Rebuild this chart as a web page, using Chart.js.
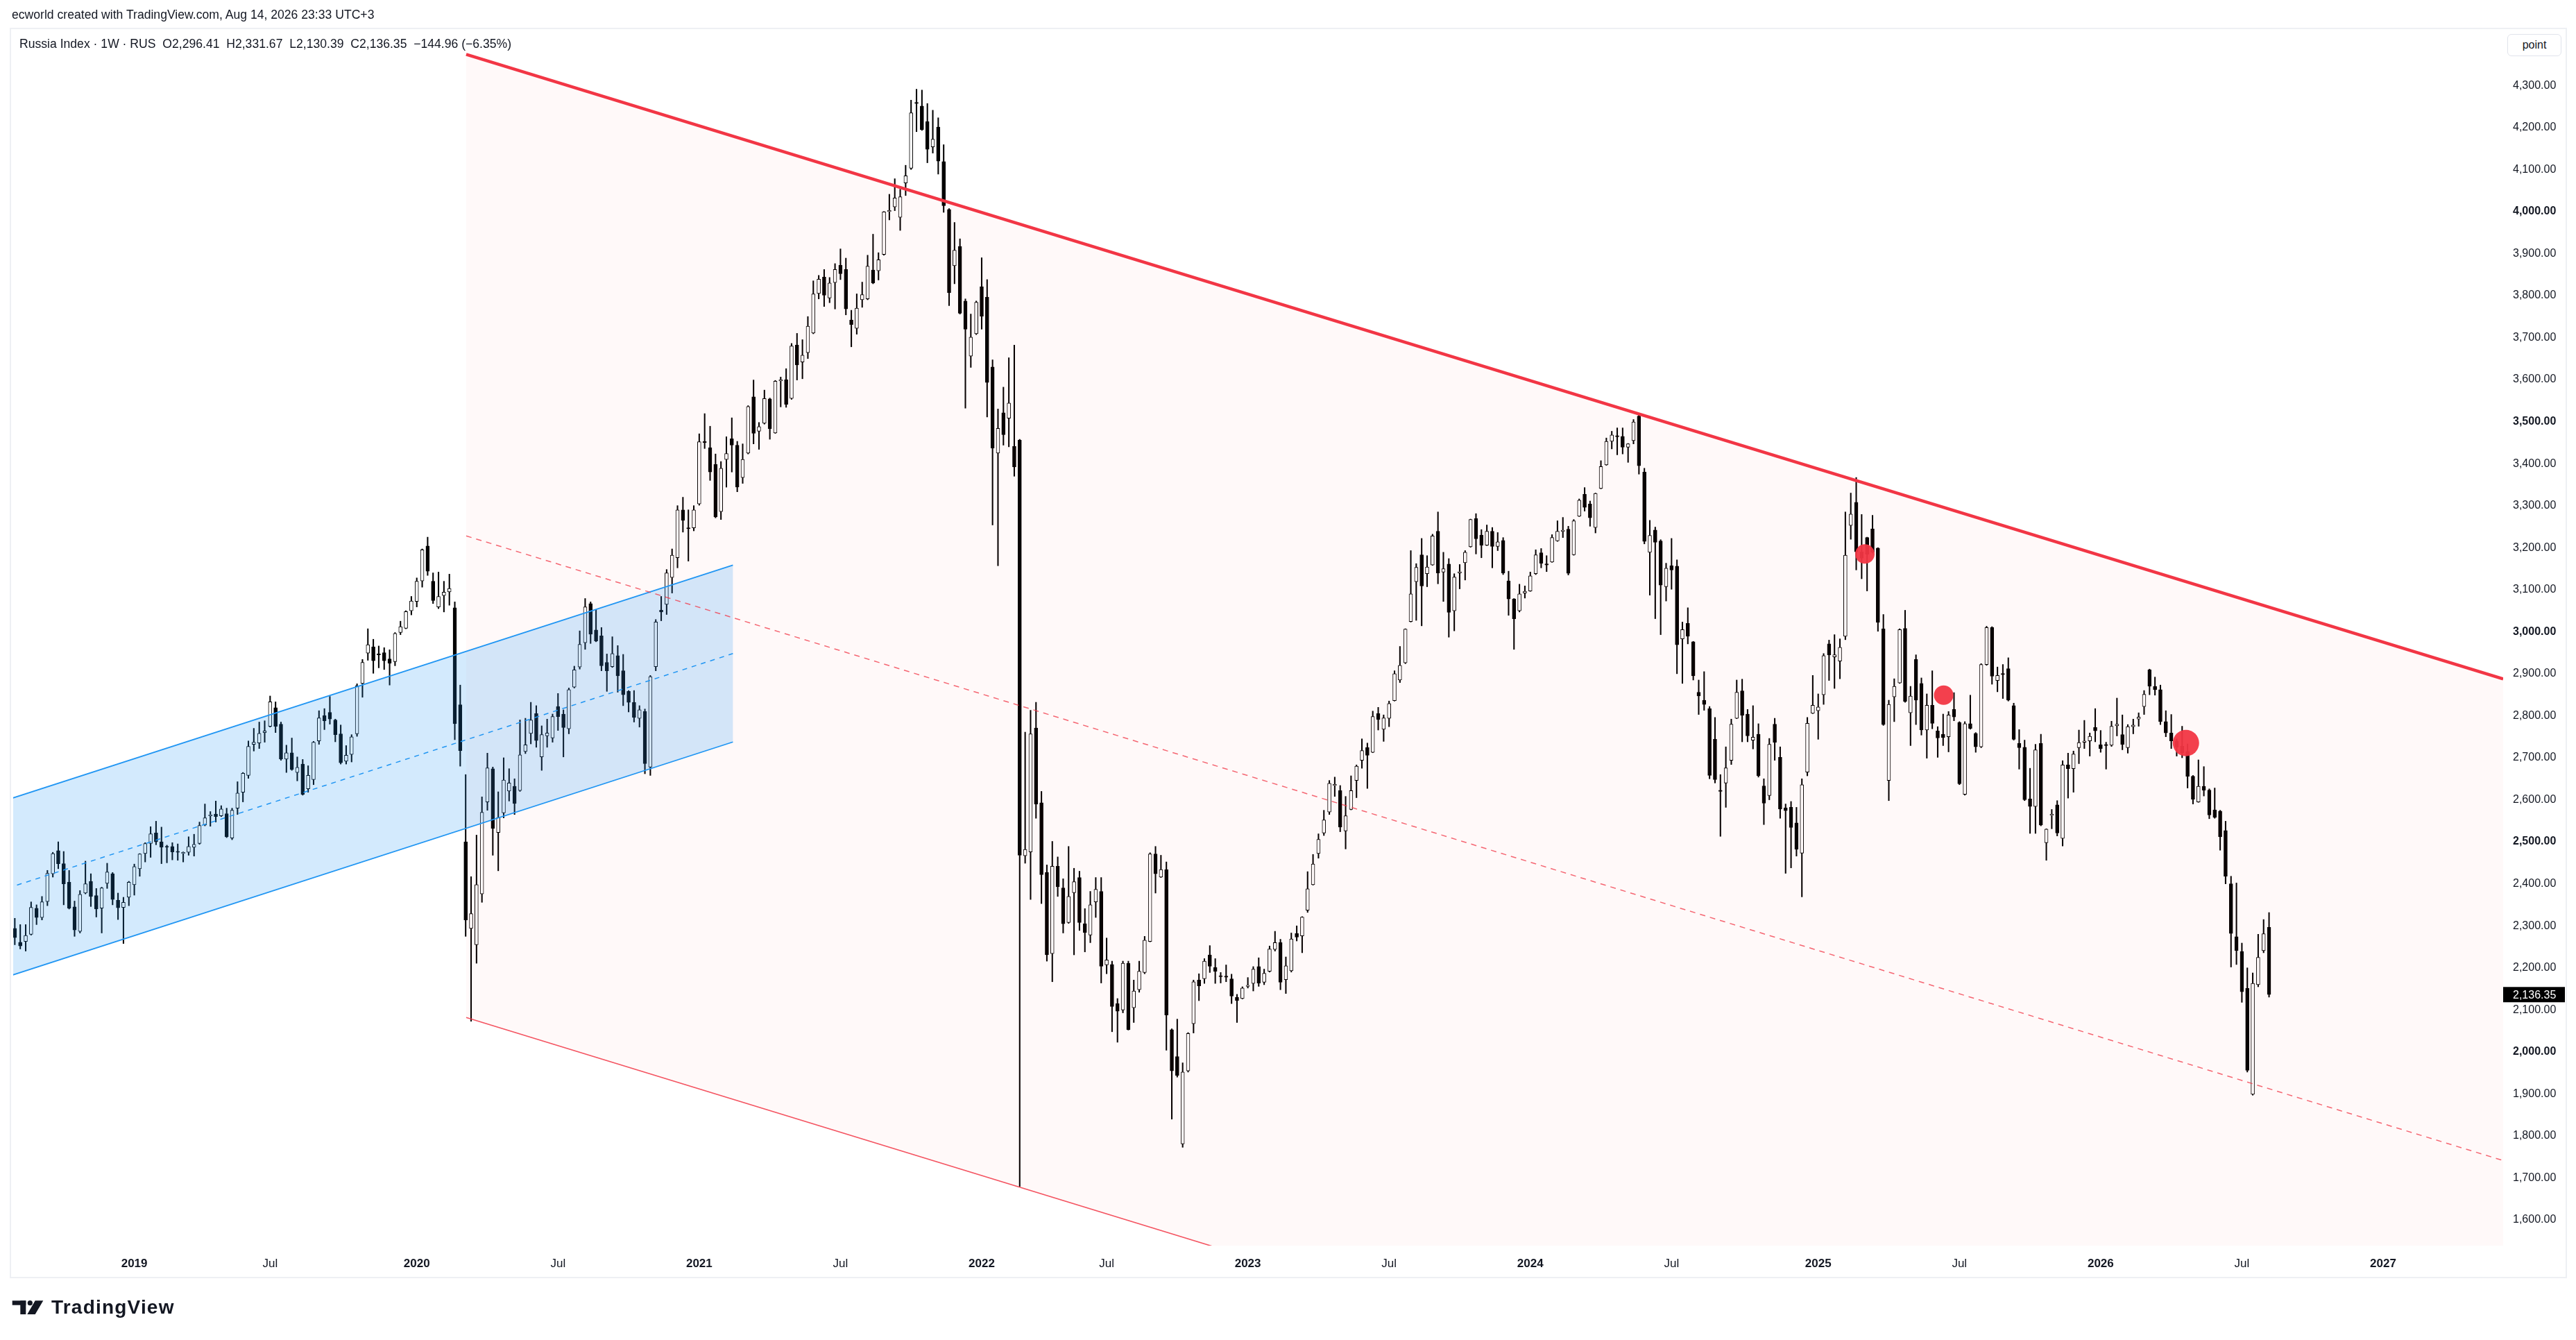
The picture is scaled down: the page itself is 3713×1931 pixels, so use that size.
<!DOCTYPE html>
<html>
<head>
<meta charset="utf-8">
<title>Russia Index 1W</title>
<script src="https://cdn.jsdelivr.net/npm/chart.js@4.4.1/dist/chart.umd.min.js"></script>
<style>
  html, body { margin: 0; padding: 0; background: #fff; }
  #wrap { position: relative; width: 3713px; height: 1931px; overflow: hidden;
          font-family: "Liberation Sans", Arial, sans-serif; color: #131722; }
  #chart { position: absolute; left: 0; top: 0; width: 3713px; height: 1931px; }
  .frame { position: absolute; left: 14px; top: 40px; width: 3682px; height: 1798px;
           border: 2px solid #eef0f4; pointer-events: none; }
  .hdr { position: absolute; left: 17px; top: 11px; font-size: 17.6px; line-height: 20px; white-space: pre; }
  .legend { position: absolute; left: 28px; top: 53px; font-size: 17.6px; line-height: 20px; white-space: pre; }
  .unit { position: absolute; left: 3614px; top: 49px; width: 76px; height: 30px; border: 1px solid #e0e3eb;
          border-radius: 6px; font-size: 16px; line-height: 30px; text-align: center; background: #fff; }
  .logo-icon { position: absolute; left: 0; top: 1860px; }
  .logo-text { position: absolute; left: 74px; top: 1870px; font-weight: bold; font-size: 28px; line-height: 28px;
               letter-spacing: 1.2px; color: #131722; }
</style>
</head>
<body>
<div id="wrap">
  <canvas id="chart" width="3713" height="1931"></canvas>
  <div class="frame"></div>
  <div class="hdr">ecworld created with TradingView.com, Aug 14, 2026 23:33 UTC+3</div>
  <div class="legend">Russia Index · 1W · RUS  O2,296.41  H2,331.67  L2,130.39  C2,136.35  −144.96 (−6.35%)</div>
  <div class="unit">point</div>
  <svg class="logo-icon" width="70" height="40" viewBox="0 0 70 40">
    <rect x="17.7" y="14.3" width="19.6" height="6.4" fill="#131722"/>
    <rect x="29.3" y="14.3" width="8" height="19.7" fill="#131722"/>
    <circle cx="43.3" cy="17.7" r="3.6" fill="#131722"/>
    <polygon points="50.7,14.3 62.3,14.3 50.7,34 39.3,34" fill="#131722"/>
  </svg>
  <div class="logo-text">TradingView</div>
</div>
<script>
// weekly bars, first bar week of 2018-08-06; exchange closed for three weeks in 2022
const firstWeek = "2018-08-06";
const closedWeeks = ["2022-02-28", "2022-03-07", "2022-03-14"];

const open = [
  2294,2261,2263,2280,2342,2320,2358,2424,2479,2448, 2404,2345,2287,2378,2406,2372,2342,2401,2424,2361,
  2344,2368,2398,2436,2472,2496,2521,2500,2489,2489, 2476,2472,2475,2487,2496,2540,2562,2566,2562,2567,
  2509,2580,2618,2658,2732,2735,2760,2775,2819,2780, 2697,2712,2665,2685,2626,2648,2740,2800,2808,2790,
  2757,2692,2708,2757,2877,2949,2964,2946,2950,2935, 2929,2998,3008,3050,3072,3121,3204,3120,3059,3086,
  3095,3057,2826,2500,2294,2255,2376,2595,2674,2522, 2569,2621,2632,2622,2715,2758,2805,2702,2752,2747,
  2822,2804,2769,2868,2916,2974,3067,3004,2990,2927, 2917,2943,2907,2858,2832,2794,2810,2678,2917,3051,
  3065,3129,3176,3290,3247,3247,3304,3452,3438,3398, 3286,3410,3459,3444,3367,3425,3559,3477,3496,3554,
  3473,3597,3600,3555,3682,3642,3664,3711,3805,3844, 3794,3831,3872,3862,3742,3722,3790,3792,3861,3859,
  3898,4000,4011,3986,4068,4103,4258,4251,4214,4154, 4201,4119,4005,3871,3917,3787,3656,3709,3821,3796,
  3630,3425,3521,3508,3441,3456,2467,2476,2771,2593, 2427,2234,2442,2390,2308,2379,2415,2305,2278,2357,
  2382,2207,2208,2115,2100,2211,2105,2148,2189,2263, 2471,2416,2434,2053,1989,1781,1955,2067,2171,2174,
  2231,2201,2180,2180,2174,2130,2127,2156,2163,2203, 2166,2192,2244,2260,2172,2193,2282,2276,2337,2398,
  2472,2521,2571,2634,2622,2526,2577,2646,2694,2724, 2713,2805,2768,2794,2836,2885,2926,3024,3119,3183,
  3138,3159,3239,3142,3161,3050,3140,3164,3202,3269, 3230,3206,3239,3203,3217,3121,3078,3050,3092,3097,
  3138,3188,3160,3166,3216,3239,3244,3183,3275,3327, 3304,3248,3341,3397,3453,3465,3465,3439,3455,3513,
  3380,3189,3242,3216,3107,3157,3156,2983,3020,2976, 2856,2837,2817,2744,2621,2640,2694,2794,2859,2804,
  2742,2756,2633,2610,2780,2701,2581,2582,2545,2473, 2666,2806,2812,2850,2971,2940,2930,2989,3253,3308,
  3190,3224,3245,3199,3007,2646,2845,2878,3008,2807, 2934,2877,2766,2825,2764,2756,2750,2815,2784,2613,
  2781,2758,2726,2922,3010,2884,2899,2912,2824,2734, 2725,2602,2584,2734,2498,2563,2588,2508,2683,2674,
  2724,2737,2740,2772,2731,2730,2730,2776,2755,2724, 2774,2792,2822,2909,2870,2862,2786,2759,2740,2728,
  2715,2656,2595,2632,2623,2576,2573,2527,2400,2274, 2239,2151,1899,2160,2241,2296.41
];
const high = [
  2318,2303,2303,2357,2350,2370,2432,2475,2500,2477, 2432,2359,2384,2454,2424,2389,2392,2449,2427,2378,
  2368,2406,2447,2472,2498,2536,2549,2535,2492,2498, 2495,2476,2512,2518,2547,2590,2572,2597,2586,2580,
  2580,2643,2665,2740,2770,2785,2788,2847,2833,2785, 2730,2747,2702,2696,2681,2739,2812,2817,2846,2792,
  2778,2729,2755,2876,2934,3007,2982,2966,2962,2957, 2998,3025,3050,3084,3128,3197,3225,3140,3142,3120,
  3137,3071,2873,2660,2417,2516,2607,2711,2678,2619, 2700,2674,2650,2790,2794,2832,2824,2776,2792,2804,
  2853,2814,2866,2918,3002,3079,3071,3053,3010,2947, 2988,2967,2946,2860,2860,2824,2816,2896,3029,3084,
  3148,3197,3300,3320,3290,3300,3471,3519,3489,3423, 3405,3464,3509,3453,3447,3538,3599,3498,3575,3556,
  3598,3606,3626,3686,3710,3695,3750,3835,3848,3862, 3843,3876,3911,3889,3765,3804,3832,3896,3946,3902,
  4000,4041,4078,4053,4110,4265,4291,4289,4257,4241, 4223,4159,4007,3974,3935,3792,3756,3787,3890,3838,
  3647,3530,3582,3652,3682,3458,2761,2813,2832,2620, 2445,2501,2464,2412,2489,2437,2430,2341,2382,2415,
  2415,2271,2216,2127,2216,2216,2171,2216,2275,2474, 2489,2468,2452,2055,2078,1974,2046,2171,2186,2222,
  2253,2222,2189,2207,2185,2137,2155,2177,2203,2224, 2197,2252,2287,2268,2226,2283,2300,2322,2429,2470,
  2519,2575,2646,2654,2634,2608,2657,2683,2745,2735, 2811,2820,2802,2835,2907,2965,3007,3193,3162,3222,
  3181,3232,3285,3189,3174,3138,3160,3193,3268,3281, 3243,3254,3248,3236,3224,3144,3079,3113,3109,3142,
  3195,3198,3181,3231,3264,3272,3251,3267,3316,3343, 3311,3330,3407,3461,3477,3485,3485,3448,3505,3517,
  3389,3265,3249,3219,3163,3222,3171,3023,3057,2977, 2885,2905,2822,2796,2660,2726,2792,2885,2887,2815,
  2824,2781,2650,2746,2794,2726,2590,2596,2582,2650, 2796,2896,2852,2948,2980,2993,2983,3285,3330,3367,
  3279,3225,3277,3200,3041,2837,2888,3007,3051,2870, 2945,2890,2852,2907,2774,2804,2810,2855,2786,2786,
  2849,2760,2924,3013,3012,2916,2922,2938,2830,2767, 2742,2675,2732,2756,2531,2577,2598,2693,2711,2716,
  2766,2789,2759,2817,2765,2737,2787,2842,2802,2779, 2792,2807,2860,2911,2892,2873,2812,2803,2745,2775,
  2733,2658,2695,2679,2626,2628,2575,2549,2418,2402, 2259,2200,2188,2280,2315,2331.67
];
const low = [
  2255,2245,2240,2278,2303,2314,2348,2416,2436,2350, 2340,2275,2283,2376,2346,2321,2283,2389,2350,2315,
  2258,2348,2373,2418,2452,2463,2493,2448,2450,2457, 2456,2452,2468,2466,2494,2538,2537,2547,2560,2510,
  2505,2565,2595,2651,2716,2722,2737,2773,2760,2694, 2665,2670,2645,2611,2618,2636,2732,2767,2780,2738,
  2685,2685,2690,2751,2844,2932,2901,2914,2910,2873, 2919,2993,3007,3040,3059,3106,3134,3067,3055,3047,
  3063,2743,2680,2275,2073,2211,2356,2575,2468,2431, 2557,2597,2565,2620,2710,2733,2725,2670,2725,2737,
  2765,2702,2757,2866,2911,2958,2972,2976,2907,2858, 2915,2856,2824,2809,2785,2773,2662,2658,2907,3026,
  3041,3092,3152,3237,3168,3240,3301,3436,3360,3271, 3267,3344,3380,3333,3353,3423,3447,3434,3494,3458,
  3472,3535,3534,3553,3599,3602,3650,3709,3792,3774, 3783,3768,3838,3754,3678,3708,3772,3790,3828,3837,
  3896,3980,4002,3955,4038,4100,4190,4193,4116,4139, 4089,3998,3776,3828,3756,3532,3629,3707,3720,3511,
  3254,3157,3444,3440,3370,1680,2449,2363,2556,2353, 2216,2167,2370,2283,2306,2231,2289,2238,2260,2320,
  2164,2186,2048,2023,2093,2052,2070,2142,2186,2262, 2378,2415,2004,1840,1940,1773,1952,2045,2122,2163,
  2189,2163,2164,2167,2115,2070,2126,2152,2145,2156, 2160,2190,2240,2148,2139,2190,2264,2236,2332,2397,
  2461,2515,2565,2608,2524,2483,2576,2605,2675,2627, 2712,2766,2739,2774,2835,2879,2924,3023,3027,3014,
  3107,3158,3114,3072,2987,3002,3102,3123,3201,3185, 3176,3205,3152,3193,3136,3039,2958,3047,3080,3096,
  3136,3152,3143,3165,3215,3224,3135,3182,3274,3287, 3251,3235,3340,3396,3435,3421,3423,3403,3447,3375,
  3209,3087,3031,2993,3073,3101,2900,2877,2971,2885, 2803,2813,2650,2640,2513,2582,2684,2793,2738,2738,
  2721,2654,2541,2600,2694,2556,2425,2438,2466,2369, 2657,2805,2744,2827,2884,2865,2888,2981,3220,3147,
  3126,3097,3187,3001,2777,2598,2786,2877,2832,2729, 2779,2754,2699,2769,2701,2729,2714,2788,2636,2611,
  2768,2713,2724,2920,2875,2857,2841,2835,2742,2673, 2598,2520,2520,2538,2456,2531,2514,2490,2604,2618,
  2686,2722,2704,2738,2713,2673,2727,2752,2719,2711, 2757,2775,2803,2850,2849,2779,2750,2722,2704,2700,
  2628,2590,2594,2609,2555,2556,2480,2400,2202,2208, 2118,1952,1897,2155,2236,2130.39
];
const close = [
  2272,2252,2277,2344,2320,2357,2425,2472,2448,2400, 2342,2290,2375,2400,2370,2340,2390,2428,2363,2343,
  2356,2404,2441,2471,2496,2519,2500,2487,2487,2476, 2475,2475,2489,2494,2539,2557,2563,2560,2578,2512,
  2575,2616,2663,2727,2737,2758,2764,2833,2775,2697, 2712,2672,2677,2613,2658,2737,2795,2788,2792,2755,
  2688,2706,2750,2871,2927,2969,2931,2945,2931,2925, 2996,3012,3048,3073,3120,3195,3144,3074,3084,3094,
  3103,2781,2717,2314,2329,2398,2570,2676,2532,2558, 2647,2640,2591,2707,2731,2790,2741,2755,2759,2798,
  2798,2772,2862,2909,2970,3059,2994,2978,2919,2907, 2948,2895,2850,2832,2796,2814,2686,2893,3023,3047,
  3140,3182,3290,3265,3245,3290,3452,3450,3380,3273, 3389,3424,3444,3344,3410,3536,3472,3488,3555,3483,
  3596,3598,3541,3680,3635,3658,3727,3804,3839,3801, 3830,3862,3852,3768,3731,3770,3802,3870,3830,3885,
  3999,4002,4032,4035,4085,4235,4257,4195,4148,4172, 4120,4014,3807,3908,3758,3720,3701,3784,3751,3593,
  3437,3484,3469,3544,3392,2468,2482,2757,2590,2422, 2231,2442,2393,2305,2370,2405,2308,2284,2350,2387,
  2204,2219,2108,2097,2211,2053,2145,2192,2266,2471, 2424,2434,2088,1955,1944,1952,2044,2167,2157,2216,
  2204,2192,2179,2178,2133,2122,2152,2157,2197,2164, 2187,2245,2260,2166,2205,2269,2273,2321,2388,2447,
  2506,2552,2639,2635,2535,2562,2622,2680,2717,2706, 2798,2791,2795,2829,2900,2920,3006,3090,3153,3109,
  3154,3228,3140,3150,3046,3130,3143,3189,3267,3221, 3206,3239,3203,3214,3140,3078,3031,3090,3096,3133,
  3183,3163,3159,3224,3239,3240,3139,3264,3313,3296, 3271,3329,3393,3453,3468,3464,3439,3447,3499,3395,
  3215,3229,3213,3111,3151,3147,2969,3005,2989,2895, 2847,2827,2658,2648,2620,2676,2780,2856,2801,2752,
  2749,2657,2592,2732,2737,2578,2574,2534,2482,2636, 2782,2825,2821,2943,2945,2945,2963,3182,3280,3190,
  3175,3184,3189,3022,2779,2827,2870,3005,2834,2847, 2837,2766,2825,2782,2747,2748,2802,2797,2638,2781,
  2770,2726,2922,3010,2894,2896,2898,2837,2744,2724, 2600,2584,2719,2540,2530,2564,2521,2683,2674,2709,
  2736,2740,2751,2764,2722,2729,2775,2780,2732,2774, 2778,2797,2851,2870,2862,2786,2759,2740,2725,2712,
  2656,2601,2632,2623,2564,2558,2512,2418,2282,2241, 2143,1956,2163,2225,2281.31,2136.35
];

// red dots placed on the chart (bar position, price)
const dotBars = [340.6, 355.1, 399.7];
const dotPrices = [3185, 2849, 2735];

// price axis tick labels
const priceTicks = [1600,1700,1800,1900,2000,2100,2200,2300,2400,2500,2600,2700,2800,
                    2900,3000,3100,3200,3300,3400,3500,3600,3700,3800,3900,4000,4100,4200,4300];

// drawn channels, in (bar, price)
const redChan = { start: 83.1, top: 4374, slope: -3.964, width: 2292 };
const blueChan = { start: -0.19, top: 2605, slope: 4.181, end: 132.2, width: 421 };

const xMin = -0.3, xMax = 458.1, yMin = 1539, yMax = 4434;

// week dates for the bars plus the empty future area
function buildWeeks(n) {
  const out = [];
  let d = new Date(firstWeek + "T00:00:00Z");
  while (out.length < n) {
    const s = d.toISOString().slice(0, 10);
    if (!closedWeeks.includes(s)) out.push(new Date(d));
    d = new Date(d.getTime() + 7 * 864e5);
  }
  return out;
}
const weeks = buildWeeks(Math.ceil(xMax) + 1);
const timeLabels = {};
for (let i = 1; i < weeks.length; i++) {
  const a = weeks[i - 1], b = weeks[i];
  if (b.getUTCFullYear() !== a.getUTCFullYear()) timeLabels[i] = String(b.getUTCFullYear());
  else if (b.getUTCMonth() === 6 && a.getUTCMonth() !== 6) timeLabels[i] = "Jul";
}
const timeTicks = Object.keys(timeLabels).map(Number);

const idx = close.map((_, i) => i);
const wickData = idx.map(i => ({ x: i, y: [low[i], high[i]] }));
const bodyData = idx.map(i => ({ x: i, y: [open[i], close[i]] }));
const bodyColors = idx.map(i => close[i] >= open[i] ? "#ffffff" : "#000000");

const FONT = "'Liberation Sans', Arial, sans-serif";

const drawings = {
  id: "drawings",
  afterDatasetsDraw(chart) {
    const { ctx, chartArea: a, scales: { x, y } } = chart;
    const X = v => x.getPixelForValue(v), Y = v => y.getPixelForValue(v);
    const redTop = i => redChan.top + redChan.slope * (i - redChan.start);
    const blueTop = i => blueChan.top + blueChan.slope * (i - blueChan.start);
    const line = (i1, p1, i2, p2, color, w, dash) => {
      ctx.beginPath();
      ctx.setLineDash(dash || []);
      ctx.strokeStyle = color; ctx.lineWidth = w;
      ctx.moveTo(X(i1), Y(p1)); ctx.lineTo(X(i2), Y(p2));
      ctx.stroke();
    };
    ctx.save();
    ctx.beginPath();
    ctx.rect(a.left, a.top, a.right - a.left, a.bottom - a.top);
    ctx.clip();

    // falling channel background
    const rs = redChan.start, re = x.max;
    ctx.beginPath();
    ctx.moveTo(X(rs), Y(redTop(rs)));
    ctx.lineTo(X(re), Y(redTop(re)));
    ctx.lineTo(X(re), Y(redTop(re) - redChan.width));
    ctx.lineTo(X(rs), Y(redTop(rs) - redChan.width));
    ctx.closePath();
    ctx.fillStyle = "rgba(242,54,69,0.03)";
    ctx.fill();

    // rising channel background
    const bs = x.min - 1, be = blueChan.end;
    ctx.beginPath();
    ctx.moveTo(X(bs), Y(blueTop(bs)));
    ctx.lineTo(X(be), Y(blueTop(be)));
    ctx.lineTo(X(be), Y(blueTop(be) - blueChan.width));
    ctx.lineTo(X(bs), Y(blueTop(bs) - blueChan.width));
    ctx.closePath();
    ctx.fillStyle = "rgba(33,150,243,0.2)";
    ctx.fill();

    const blue = "rgb(33,150,243)";
    line(bs, blueTop(bs), be, blueTop(be), blue, 1.8);
    line(bs, blueTop(bs) - blueChan.width, be, blueTop(be) - blueChan.width, blue, 1.8);
    line(bs, blueTop(bs) - blueChan.width / 2, be, blueTop(be) - blueChan.width / 2, blue, 1.5, [7, 7]);

    line(rs, redTop(rs) - redChan.width, re, redTop(re) - redChan.width, "rgba(242,54,69,0.85)", 1.6);
    line(rs, redTop(rs) - redChan.width / 2, re, redTop(re) - redChan.width / 2, "rgba(242,54,69,0.75)", 1.5, [8, 7]);
    line(rs, redTop(rs), re, redTop(re), "rgb(242,54,69)", 4.5);
    ctx.restore();
  },
  afterDraw(chart) {
    // last price tag on the price axis
    const { ctx, chartArea: a, scales: { y } } = chart;
    const last = close[close.length - 1];
    const py = y.getPixelForValue(last);
    ctx.save();
    ctx.fillStyle = "#000";
    ctx.fillRect(a.right, py - 11, 89, 22);
    ctx.fillStyle = "#fff";
    ctx.font = "16px " + FONT;
    ctx.textBaseline = "middle";
    ctx.textAlign = "left";
    ctx.fillText(last.toLocaleString("en-US", { minimumFractionDigits: 2, maximumFractionDigits: 2 }), a.right + 14, py + 1);
    ctx.restore();
  }
};

new Chart(document.getElementById("chart"), {
  type: "bar",
  data: {
    datasets: [
      { label: "wick", data: wickData, backgroundColor: "#000", barThickness: 1.4, grouped: false, order: 3 },
      { label: "body", data: bodyData, backgroundColor: bodyColors, borderColor: "#000", borderWidth: 1,
        borderSkipped: false, barThickness: 5, minBarLength: 1.5, grouped: false, order: 2 },
      { type: "scatter", label: "marks", data: dotBars.map((b, i) => ({ x: b, y: dotPrices[i] })),
        pointRadius: [14, 14, 19], pointBorderWidth: 0, backgroundColor: "rgba(242,54,69,0.95)", order: 1 }
    ]
  },
  options: {
    responsive: false,
    animation: false,
    events: [],
    layout: { padding: { left: 15, top: 42, right: 15, bottom: 91 } },
    plugins: { legend: { display: false }, tooltip: { enabled: false } },
    scales: {
      x: {
        type: "linear", min: xMin, max: xMax, offset: false,
        grid: { display: false, drawTicks: false }, border: { display: false },
        afterBuildTicks: s => { s.ticks = timeTicks.map(v => ({ value: v })); },
        afterFit: s => { s.height = 45; },
        ticks: {
          autoSkip: false, maxRotation: 0, padding: 16, color: "#131722",
          callback: v => timeLabels[v] || "",
          font: c => ({ family: FONT, size: 17, weight: /^\d{4}$/.test(timeLabels[c.tick && c.tick.value] || "") ? "bold" : "normal" })
        }
      },
      y: {
        position: "right", min: yMin, max: yMax,
        grid: { display: false, drawTicks: false }, border: { display: false },
        afterBuildTicks: s => { s.ticks = priceTicks.map(v => ({ value: v })); },
        afterFit: s => { s.width = 90; },
        ticks: {
          padding: 14, color: "#131722", crossAlign: "near",
          callback: v => Number(v).toLocaleString("en-US", { minimumFractionDigits: 2, maximumFractionDigits: 2 }),
          font: c => ({ family: FONT, size: 16, weight: (c.tick && c.tick.value % 500 === 0) ? "bold" : "normal" })
        }
      }
    }
  },
  plugins: [drawings]
});
</script>
</body>
</html>
